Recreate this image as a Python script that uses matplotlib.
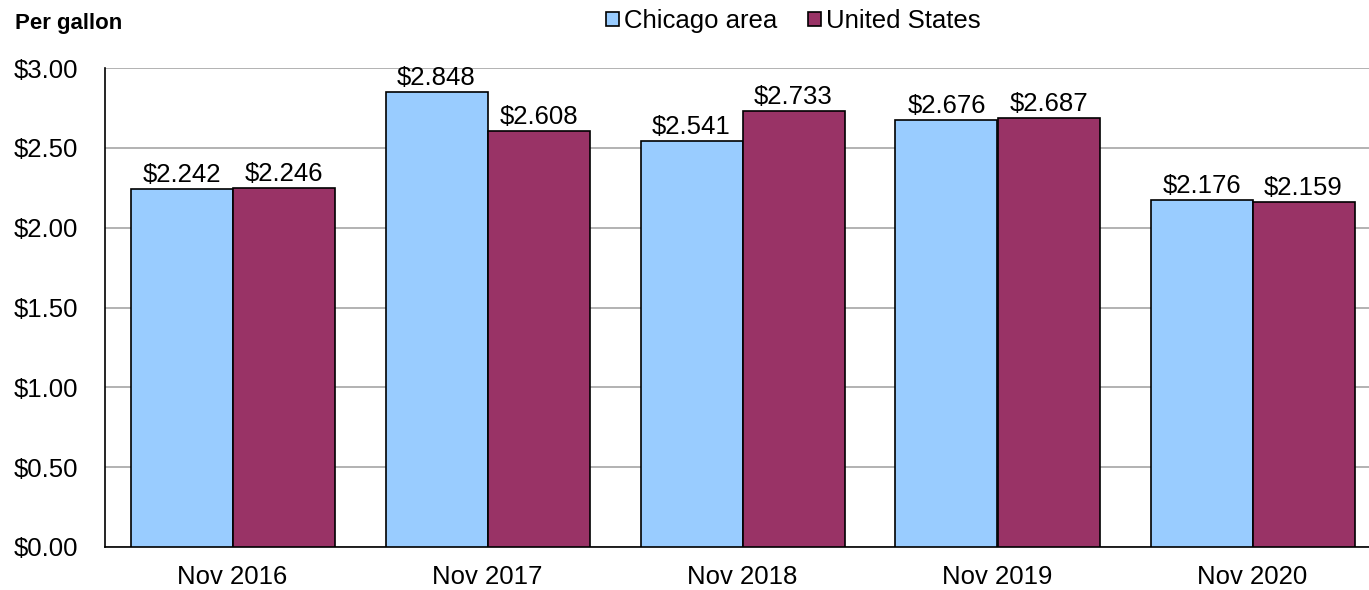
import matplotlib
matplotlib.use("Agg")
import matplotlib.pyplot as plt
import numpy as np

categories = ["Nov 2016", "Nov 2017", "Nov 2018", "Nov 2019", "Nov 2020"]
chicago = [2.242, 2.848, 2.541, 2.676, 2.176]
us = [2.246, 2.608, 2.733, 2.687, 2.159]
yticks = [0.0, 0.5, 1.0, 1.5, 2.0, 2.5, 3.0]

plt.rcParams['font.family'] = ['Liberation Sans', 'DejaVu Sans']

W, H = 1369, 590
fig = plt.figure(figsize=(W / 100, H / 100), dpi=100)
left, right, top, bottom = 105, 1380, 68, 547
ax = fig.add_axes([left / W, (H - bottom) / H, (right - left) / W, (bottom - top) / H])

x = np.arange(len(categories))
bw = 0.4
c_col = "#99CCFF"
u_col = "#993366"
b1 = ax.bar(x - bw / 2, chicago, bw, color=c_col, edgecolor="black", linewidth=1.2, label="Chicago area", zorder=3)
b2 = ax.bar(x + bw / 2, us, bw, color=u_col, edgecolor="black", linewidth=1.2, label="United States", zorder=3)

for bars, vals in ((b1, chicago), (b2, us)):
    for r, v in zip(bars, vals):
        ax.text(r.get_x() + r.get_width() / 2, v + 0.012, f"${v:.3f}", ha="center", va="bottom",
                fontsize=18.5, color="black")

ax.set_xlim(-0.5, len(categories) - 0.5)
ax.set_ylim(0, 3.0)
ax.set_yticks(yticks)
ax.set_yticklabels([f"${t:.2f}" for t in yticks], fontsize=18.5)
ax.set_xticks(x)
ax.set_xticklabels(categories, fontsize=18.5)
ax.tick_params(axis="both", length=0)
ax.tick_params(axis="y", pad=19.5)
ax.tick_params(axis="x", pad=13)
ax.yaxis.grid(True, color="#A6A6A6", linewidth=1.2, zorder=0)
ax.set_axisbelow(True)
for s in ("top", "right"):
    ax.spines[s].set_visible(False)
ax.spines["left"].set_color("black")
ax.spines["bottom"].set_color("black")
ax.spines["left"].set_linewidth(1.2)
ax.spines["bottom"].set_linewidth(1.2)

fig.text(15 / W, 1 - 23 / H, "Per gallon", fontsize=16, fontweight="bold", ha="left", va="center")

leg = fig.legend(handles=[b1, b2], loc="center", bbox_to_anchor=(793 / W, 1 - 21 / H), ncol=2,
                 frameon=False, fontsize=18.5, handlelength=0.5, handleheight=0.5,
                 handletextpad=0.2, columnspacing=1.2, borderpad=0)

fig.savefig("out.png", dpi=100, facecolor="white")
